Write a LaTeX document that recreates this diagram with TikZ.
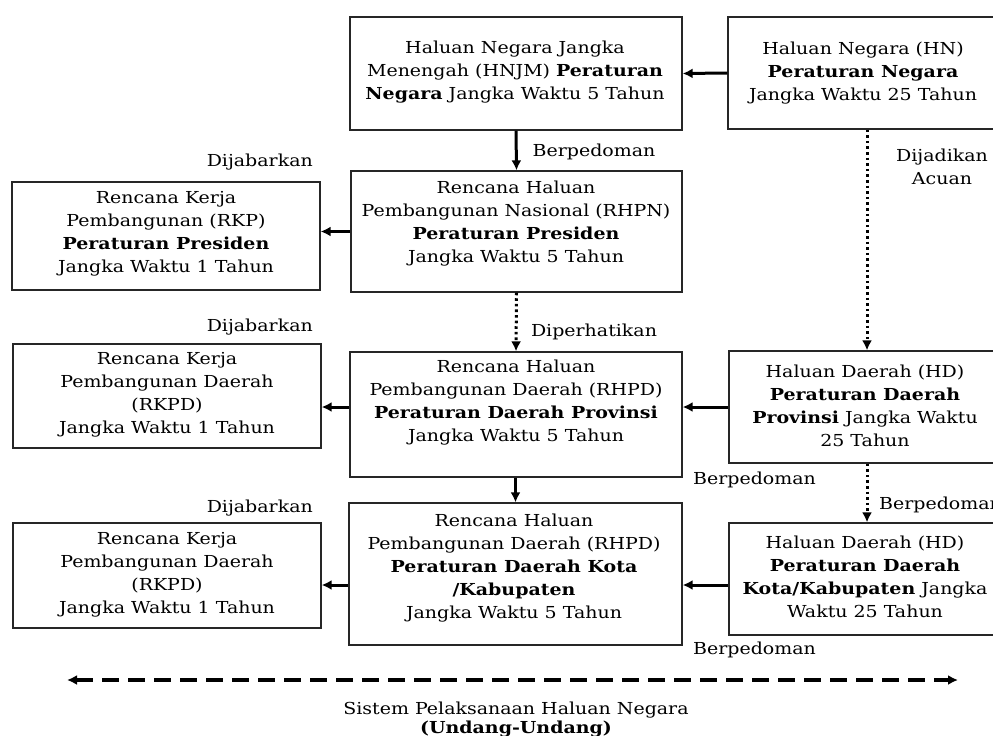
\documentclass[tikz,border=0pt]{standalone}
\usepackage{fontspec}
\setmainfont{DejaVu Serif}[FakeStretch=1.15]
\usetikzlibrary{arrows.meta,calc}
\begin{document}
\begin{tikzpicture}[x=1pt,y=-1pt,
  box/.style={draw=black!85, line width=1.3pt, rectangle, inner sep=0pt},
  txt/.style={align=center, font=\fontsize{16.5}{23}\selectfont, inner sep=0pt},
  lbl/.style={font=\fontsize{16.5}{23}\selectfont, inner sep=0pt},
  solidarrow/.style={line width=3pt, -{Latex[length=10pt,width=10pt]}},
  dotarrow/.style={line width=3pt, dash pattern=on 2.6pt off 3pt, -{Latex[length=10pt,width=10pt]}},
  dasharrow/.style={line width=3.2pt, dash pattern=on 17pt off 9pt,
    {Latex[length=10pt,width=10pt]}-{Latex[length=10pt,width=10pt]}},
]
\clip (0,0) rectangle (993,736);
\fill[white] (0,0) rectangle (993,736);

% ---- boxes ----
\node[box, minimum width=332pt, minimum height=113pt] (hnjm) at (516,73.5) {};
\node[box, minimum width=270pt, minimum height=112pt] (hn)   at (863,73) {};
\node[box, minimum width=331pt, minimum height=121pt] (rhpn) at (516.5,231.5) {};
\node[box, minimum width=308pt, minimum height=108pt] (rkp)  at (166,236) {};
\node[box, minimum width=332pt, minimum height=125pt] (rhpd) at (516,414.5) {};
\node[box, minimum width=269pt, minimum height=112pt] (hdp)  at (863.5,407) {};
\node[box, minimum width=308pt, minimum height=104pt] (rkpda) at (167,396) {};
\node[box, minimum width=333pt, minimum height=142pt] (kota) at (515.5,574) {};
\node[box, minimum width=269pt, minimum height=112pt] (hdk)  at (863.5,579) {};
\node[box, minimum width=308pt, minimum height=105pt] (rkpdb) at (167,575.5) {};

% ---- box texts ----
\node[txt] (hnjm-t) at (515,72.5) {Haluan Negara Jangka\\Menengah (HNJM) \textbf{Peraturan}\\\textbf{Negara} Jangka Waktu 5 Tahun};
\node[txt] (hn-t) at (863,73) {Haluan Negara (HN)\\\textbf{Peraturan Negara}\\Jangka Waktu 25 Tahun};
\node[txt] (rhpn-t) at (516,224) {Rencana Haluan\\Pembangunan Nasional (RHPN)\\\textbf{Peraturan Presiden}\\Jangka Waktu 5 Tahun};
\node[txt] (rkp-t) at (166,233.5) {Rencana Kerja\\Pembangunan (RKP)\\\textbf{Peraturan Presiden}\\Jangka Waktu 1 Tahun};
\node[txt] (rhpd-t) at (516,403) {Rencana Haluan\\Pembangunan Daerah (RHPD)\\\textbf{Peraturan Daerah Provinsi}\\Jangka Waktu 5 Tahun};
\node[txt] (hdp-t) at (865,406) {Haluan Daerah (HD)\\\textbf{Peraturan Daerah}\\\textbf{Provinsi} Jangka Waktu\\25 Tahun};
\node[txt] (rkpda-t) at (167,395) {Rencana Kerja\\Pembangunan Daerah\\(RKPD)\\Jangka Waktu 1 Tahun};
\node[txt] (kota-t) at (514,568.5) {Rencana Haluan\\Pembangunan Daerah (RHPD)\\\textbf{Peraturan Daerah Kota}\\\textbf{/Kabupaten}\\Jangka Waktu 5 Tahun};
\node[txt] (hdk-t) at (865,577) {Haluan Daerah (HD)\\\textbf{Peraturan Daerah}\\\textbf{Kota/Kabupaten} Jangka\\Waktu 25 Tahun};
\node[txt] (rkpdb-t) at (167,574.5) {Rencana Kerja\\Pembangunan Daerah\\(RKPD)\\Jangka Waktu 1 Tahun};

% ---- connector labels ----
\node[lbl] (l-berp1) at (594,152) {Berpedoman};
\node[lbl, anchor=east] (l-dija1) at (313,162) {Dijabarkan};
\node[lbl, align=center] (l-acuan) at (942,167) {Dijadikan\\Acuan};
\node[lbl, anchor=east] (l-dija2) at (313,327) {Dijabarkan};
\node[lbl] (l-diper) at (594,332) {Diperhatikan};
\node[lbl, anchor=west] (l-berp2) at (693,480) {Berpedoman};
\node[lbl, anchor=west] (l-berp3) at (879,505) {Berpedoman};
\node[lbl, anchor=east] (l-dija3) at (313,508) {Dijabarkan};
\node[lbl, anchor=west] (l-berp4) at (693,650) {Berpedoman};
\node[lbl] (sys) at (516,710) {Sistem Pelaksanaan Haluan Negara};
\node[lbl] (uu) at (516,729) {\textbf{(Undang-Undang)}};

% ---- connectors ----
\coordinate (colhd) at (867,0);
\coordinate (rowk) at ($(hdk.west)+(0,6)$);
\draw[solidarrow] (hn.west) -- (hnjm.east);
\draw[solidarrow] (hnjm.south) -- (rhpn.north);
\draw[solidarrow] (rhpn.west) -- (rkp.east |- rhpn.west);
\draw[dotarrow] (rhpn.south) -- (rhpd.north);
\draw[dotarrow] (hn.south -| colhd) -- (hdp.north -| colhd);
\draw[solidarrow] (hdp.west) -- (rhpd.east |- hdp.west);
\draw[solidarrow] (rhpd.west |- hdp.west) -- (rkpda.east |- hdp.west);
\draw[solidarrow] (rhpd.south -| kota.north) -- (kota.north);
\draw[dotarrow] (hdp.south -| colhd) -- (hdk.north -| colhd);
\draw[solidarrow] (rowk) -- (rowk -| kota.east);
\draw[solidarrow] (rowk -| kota.west) -- (rowk -| rkpdb.east);

\coordinate (sysl) at (67,680);
\coordinate (sysr) at (958,680);
\draw[dasharrow] (sysl) -- (sysr);
\end{tikzpicture}
\end{document}
